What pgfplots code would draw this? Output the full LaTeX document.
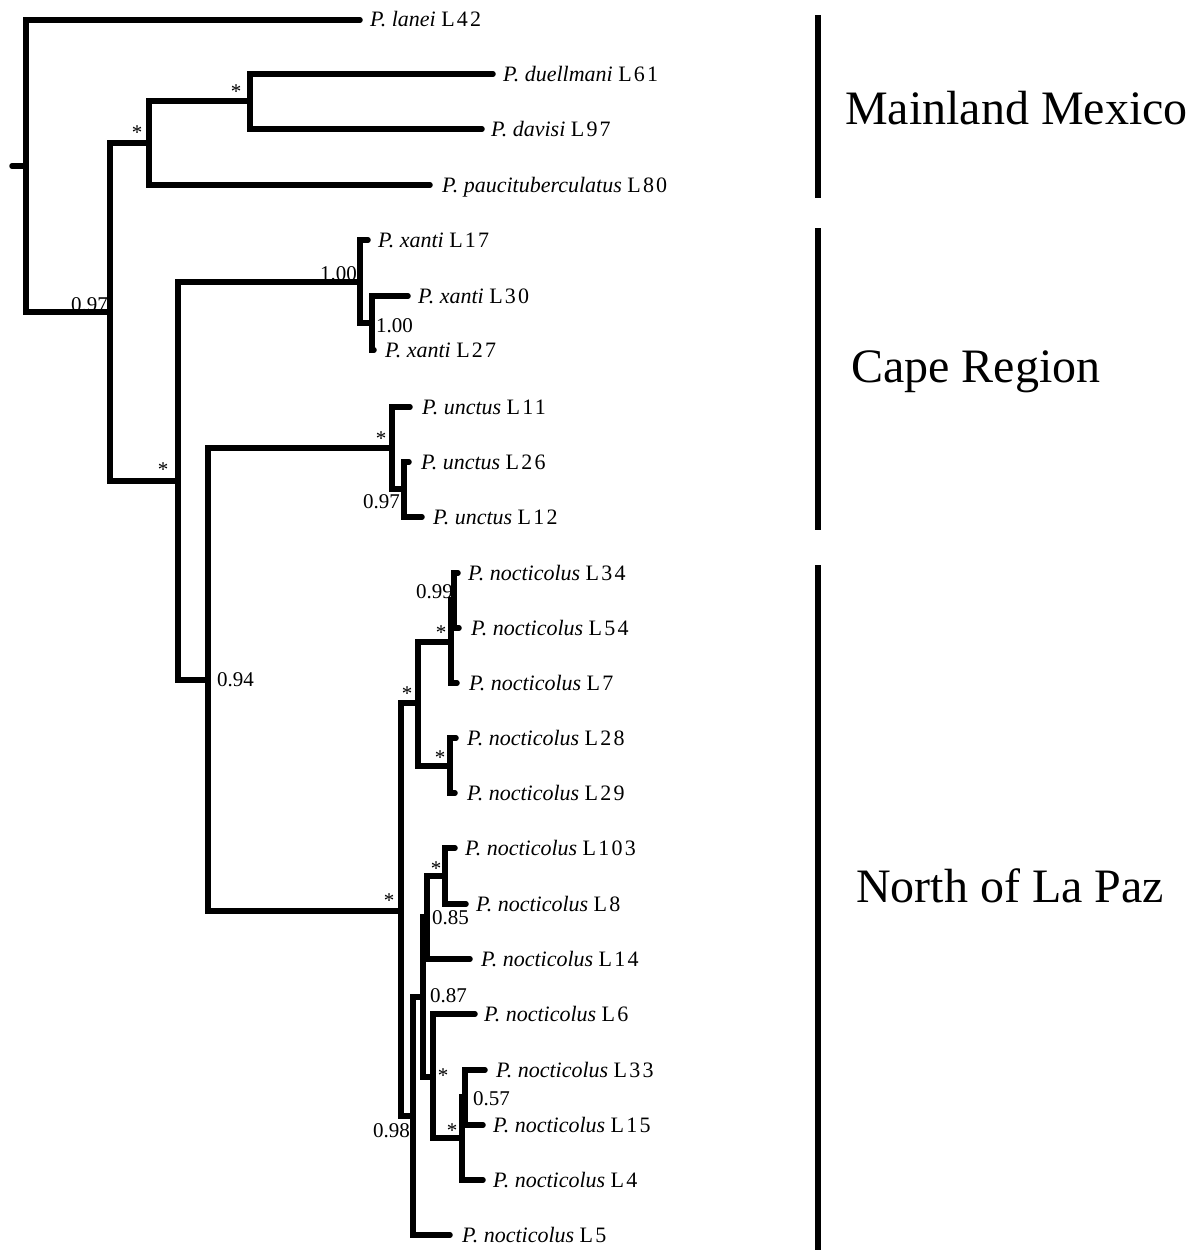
\documentclass[border=0pt]{standalone}
\usepackage{pgfplots}
\pgfplotsset{compat=1.18}
\usepackage{fontspec}
\setmainfont{Liberation Serif}
\newcommand\lf[4]{\node[anchor=base west,inner sep=0pt,font=\fontsize{22}{25}\selectfont] at (axis cs:#1,#2) {\textit{P. #3} {\addfontfeature{LetterSpace=10}L#4}};}
\newcommand\sv[4]{\node[anchor=#1,inner sep=0pt,font=\fontsize{21}{24}\selectfont] at (axis cs:#2,#3) {#4};}
\pgfplotsset{br/.style={black, line width=5.5pt, line cap=round, line join=miter, no markers}}
\begin{document}
\begin{tikzpicture}
\begin{axis}[
  width=1195pt, height=1250pt, scale only axis,
  xmin=0, xmax=1195, ymin=0, ymax=1250, y dir=reverse,
  hide axis, clip=false]
% tree branches (pixel coordinates)
\addplot[br] coordinates {(12,166) (26,166)};
\addplot[br] coordinates {(360,20) (26,20) (26,312) (110,312)};
\addplot[br] coordinates {(149,143) (110,143) (110,481) (178,481)};
\addplot[br] coordinates {(250,101) (149,101) (149,185) (430,185)};
\addplot[br] coordinates {(493,74) (250,74) (250,129) (482,129)};
\addplot[br] coordinates {(360,282) (178,282) (178,680) (208,680)};
\addplot[br] coordinates {(368,240) (360,240) (360,323) (372,323)};
\addplot[br] coordinates {(408,296) (372,296) (372,350) (374,350)};
\addplot[br] coordinates {(392,448) (208,448) (208,911) (401,911)};
\addplot[br] coordinates {(410,407) (392,407) (392,489) (404,489)};
\addplot[br] coordinates {(409,462) (404,462) (404,517) (422,517)};
\addplot[br] coordinates {(418,703) (401,703) (401,1116) (413,1116)};
\addplot[br] coordinates {(451,642) (418,642) (418,766) (450,766)};
\addplot[br] coordinates {(454,600) (451,600) (451,683) (457,683)};
\addplot[br] coordinates {(458,573) (454,573) (454,628) (459,628)};
\addplot[br] coordinates {(456,738) (450,738) (450,793) (455,793)};
\addplot[br] coordinates {(423,997) (413,997) (413,1235) (450,1235)};
\addplot[br] coordinates {(427,917) (423,917) (423,1077) (433,1077)};
\addplot[br] coordinates {(445,876) (427,876) (427,959) (470,959)};
\addplot[br] coordinates {(455,848) (445,848) (445,904) (466,904)};
\addplot[br] coordinates {(475,1014) (433,1014) (433,1138) (462,1138)};
\addplot[br] coordinates {(465,1097) (462,1097) (462,1180) (483,1180)};
\addplot[br] coordinates {(485,1070) (465,1070) (465,1125) (483,1125)};
% region bars
\addplot[black, line width=5.5pt, no markers] coordinates {(818,15) (818,198)};
\addplot[black, line width=5.5pt, no markers] coordinates {(818,228) (818,530)};
\addplot[black, line width=5.5pt, no markers] coordinates {(818,565) (818,1250)};
% region names
\node[anchor=base west,inner sep=0pt,font=\fontsize{48}{56}\selectfont] at (axis cs:845,124) {Mainland Mexico};
\node[anchor=base west,inner sep=0pt,font=\fontsize{48}{56}\selectfont] at (axis cs:851,382) {Cape Region};
\node[anchor=base west,inner sep=0pt,font=\fontsize{48}{56}\selectfont] at (axis cs:856,902) {North of La Paz};
% leaves
\lf{370}{27}{lanei}{42}
\lf{503}{81}{duellmani}{61}
\lf{491}{136}{davisi}{97}
\lf{442}{192}{paucituberculatus}{80}
\lf{378}{247}{xanti}{17}
\lf{418}{303}{xanti}{30}
\lf{385}{357}{xanti}{27}
\lf{422}{414}{unctus}{11}
\lf{421}{469}{unctus}{26}
\lf{433}{524}{unctus}{12}
\lf{468}{580}{nocticolus}{34}
\lf{471}{635}{nocticolus}{54}
\lf{469}{690}{nocticolus}{7}
\lf{467}{745}{nocticolus}{28}
\lf{467}{800}{nocticolus}{29}
\lf{465}{855}{nocticolus}{103}
\lf{476}{911}{nocticolus}{8}
\lf{481}{966}{nocticolus}{14}
\lf{484}{1021}{nocticolus}{6}
\lf{496}{1077}{nocticolus}{33}
\lf{493}{1132}{nocticolus}{15}
\lf{493}{1187}{nocticolus}{4}
\lf{462}{1242}{nocticolus}{5}
% support values
\sv{base east}{108}{311}{0.97}
\sv{base east}{357}{280}{1.00}
\sv{base west}{376}{332}{1.00}
\sv{base east}{400}{508}{0.97}
\sv{base west}{217}{686}{0.94}
\sv{base east}{453}{598}{0.99}
\sv{base west}{432}{924}{0.85}
\sv{base west}{430}{1002}{0.87}
\sv{base west}{473}{1105}{0.57}
\sv{base east}{410}{1137}{0.98}
\sv{base}{236}{98}{*}
\sv{base}{137}{139}{*}
\sv{base}{163}{476}{*}
\sv{base}{381}{445}{*}
\sv{base}{407}{700}{*}
\sv{base}{441}{639}{*}
\sv{base}{440}{764}{*}
\sv{base}{389}{907}{*}
\sv{base}{436}{875}{*}
\sv{base}{443}{1082}{*}
\sv{base}{452}{1137}{*}
\end{axis}
\pgfresetboundingbox
\path (current axis.south west) rectangle (current axis.north east);
\end{tikzpicture}
\end{document}
